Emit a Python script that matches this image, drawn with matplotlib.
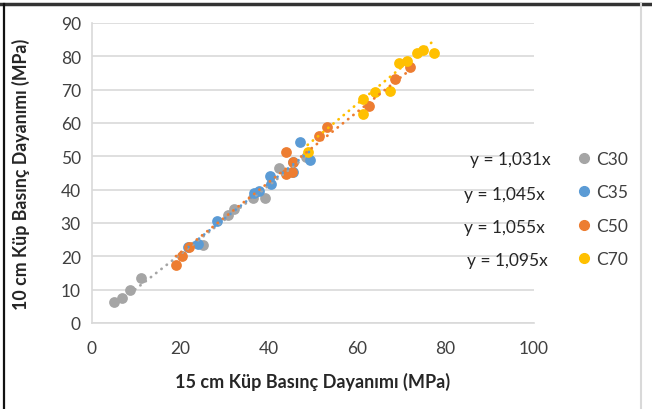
import matplotlib.pyplot as plt
from matplotlib.lines import Line2D
import numpy as np

plt.rcParams['font.family'] = ['Lato', 'DejaVu Sans']

# 15 cm (x) vs 10 cm (y) cube strengths, MPa
c30_x = [5.0, 6.9, 8.6, 11.0, 25.2, 30.8, 32.1, 36.4, 39.1, 42.4, 48.4]
c30_y = [6.2, 7.6, 9.8, 13.4, 23.4, 32.4, 34.2, 37.4, 37.4, 46.4, 49.7]
c35_x = [21.8, 24.0, 28.3, 36.7, 37.9, 40.3, 40.4, 45.5, 45.4, 47.1, 49.3]
c35_y = [22.7, 23.7, 30.7, 39.0, 39.7, 44.0, 41.7, 48.2, 45.2, 54.2, 49.0]
c50_x = [19.0, 20.3, 22.0, 43.9, 45.5, 44.0, 45.2, 51.4, 53.1, 62.7, 68.6, 71.9]
c50_y = [17.4, 20.2, 22.8, 51.2, 48.4, 44.7, 45.2, 56.2, 58.7, 65.0, 73.2, 76.7]
c70_x = [48.8, 61.4, 61.4, 64.0, 67.4, 69.5, 71.3, 73.6, 74.8, 77.4]
c70_y = [51.2, 67.2, 62.7, 69.2, 69.7, 77.9, 78.7, 81.0, 82.0, 81.0]

names = ['C30', 'C35', 'C50', 'C70']
slopes = [1.031, 1.045, 1.055, 1.095]
colors = ['#A5A5A5', '#5B9BD5', '#ED7D31', '#FFC000']
xs = [c30_x, c35_x, c50_x, c70_x]
ys = [c30_y, c35_y, c50_y, c70_y]

fig = plt.figure(figsize=(6.52, 4.10), dpi=100)
ax = fig.add_axes([0.141, 0.2098, 0.678, 0.7317])

for x, y, c, n in zip(xs, ys, colors, names):
    ax.scatter(x, y, s=60, color=c, label=n, zorder=3, linewidths=0)

# linear trendlines through the origin
for x, k, c in zip(xs, slopes, colors):
    tx = np.array([min(x), max(x)])
    ax.plot(tx, k * tx, color=c, lw=2.0, linestyle=(0, (0.1, 2.3)),
            dash_capstyle='round', zorder=4)

ax.set_xlim(0, 100)
ax.set_ylim(0, 90)
ax.set_xticks(range(0, 101, 20))
ax.set_yticks(range(0, 91, 10))
ax.grid(axis='y', color='#D9D9D9', lw=1.2)
ax.set_axisbelow(True)
for s in ['top', 'right']:
    ax.spines[s].set_visible(False)
for s in ['left', 'bottom']:
    ax.spines[s].set_color('#D9D9D9')
    ax.spines[s].set_linewidth(1.2)
ax.tick_params(length=0, labelsize=12.5, colors='#404040', pad=8)
ax.tick_params(axis='x', pad=12)

ax.set_xlabel('15 cm Küp Basınç Dayanımı (MPa)', fontsize=13,
              fontweight='bold', color='#262626', labelpad=12)
ax.set_ylabel('10 cm Küp Basınç Dayanımı (MPa)', fontsize=12.8,
              fontweight='bold', color='#262626', labelpad=22)

# trendline equations
eq_pos = [(510, 160), (504, 195), (504, 228), (507, 261)]
for (px, py), k in zip(eq_pos, slopes):
    fig.text(px / 652, 1 - py / 410, 'y = ' + f'{k:.3f}'.replace('.', ',') + 'x',
             fontsize=12.5, color='#262626', ha='center', va='center')

handles = [Line2D([], [], marker='o', ls='', color=c, markersize=7) for c in colors]
fig.legend(handles, names, loc='center left', bbox_to_anchor=(558 / 652, 1 - 210 / 410),
           frameon=False, fontsize=12.5, labelspacing=1.0, handletextpad=0.1,
           handlelength=1.2, labelcolor='#404040')

# outer frame pieces
fig.add_artist(Line2D([0, 1], [1 - 5 / 410] * 2, color='#333333', lw=2.5))
fig.add_artist(Line2D([4 / 652] * 2, [0, 1 - 5 / 410], color='#111111', lw=1.6))
fig.add_artist(Line2D([641 / 652] * 2, [0, 1 - 5 / 410], color='#D9D9D9', lw=1.5))

fig.savefig('out.png', dpi=100)
